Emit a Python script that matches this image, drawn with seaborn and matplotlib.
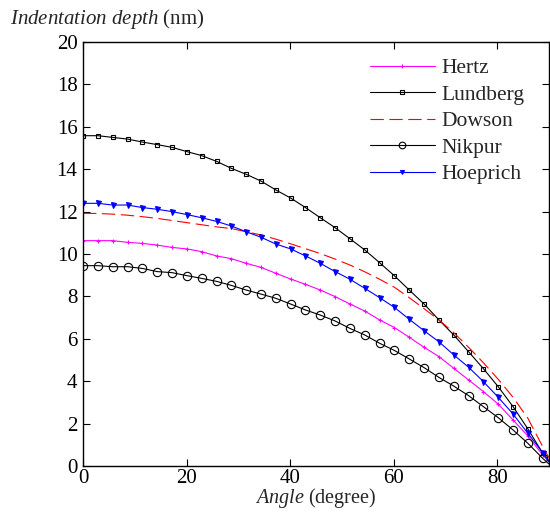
import numpy as np
import pandas as pd
import matplotlib
matplotlib.use("Agg")
import matplotlib.pyplot as plt
from matplotlib.lines import Line2D
import seaborn as sns

# Contact angle samples (rad), 0.05 rad steps, plus the closing point at 90 degrees
angle_rad = [0.00, 0.05, 0.10, 0.15, 0.20, 0.25, 0.30, 0.35, 0.40, 0.45,
             0.50, 0.55, 0.60, 0.65, 0.70, 0.75, 0.80, 0.85, 0.90, 0.95,
             1.00, 1.05, 1.10, 1.15, 1.20, 1.25, 1.30, 1.35, 1.40, 1.45,
             1.50, 1.55, np.pi / 2]

hertz = [10.63, 10.63, 10.63, 10.55, 10.50, 10.42, 10.31, 10.24, 10.11, 9.91,
         9.78, 9.56, 9.37, 9.09, 8.82, 8.57, 8.30, 7.99, 7.64, 7.31,
         6.89, 6.53, 6.07, 5.60, 5.16, 4.61, 4.06, 3.51, 2.92, 2.17,
         1.42, 0.52, 0.20]
lundberg = [15.58, 15.58, 15.50, 15.42, 15.28, 15.16, 15.03, 14.83, 14.64, 14.37,
            14.04, 13.76, 13.44, 13.02, 12.64, 12.19, 11.71, 11.24, 10.72, 10.19,
            9.59, 8.97, 8.30, 7.64, 6.89, 6.18, 5.39, 4.59, 3.74, 2.80,
            1.75, 0.60, 0.25]
dowson = [11.92, 11.91, 11.88, 11.83, 11.76, 11.68, 11.58, 11.48, 11.38, 11.28,
          11.20, 11.05, 10.90, 10.70, 10.48, 10.25, 10.02, 9.76, 9.48, 9.16,
          8.81, 8.43, 7.94, 7.42, 6.89, 6.29, 5.60, 4.87, 4.09, 3.24,
          2.25, 0.91, 0.40]
nikpur = [9.45, 9.45, 9.40, 9.40, 9.32, 9.17, 9.12, 8.98, 8.85, 8.71,
          8.52, 8.30, 8.11, 7.91, 7.64, 7.36, 7.12, 6.84, 6.49, 6.18,
          5.79, 5.45, 5.05, 4.64, 4.18, 3.77, 3.32, 2.80, 2.28, 1.70,
          1.07, 0.36, 0.10]
hoeprich = [12.39, 12.39, 12.31, 12.31, 12.19, 12.11, 12.00, 11.86, 11.71, 11.54,
            11.32, 11.05, 10.79, 10.47, 10.24, 9.91, 9.56, 9.17, 8.81, 8.38,
            7.94, 7.48, 6.92, 6.38, 5.86, 5.24, 4.66, 3.98, 3.24, 2.45,
            1.54, 0.63, 0.20]

series_names = ["Hertz", "Lundberg", "Dowson", "Nikpur", "Hoeprich"]
series_values = [hertz, lundberg, dowson, nikpur, hoeprich]
colors = ["#ff00ff", "#000000", "#ff0000", "#000000", "#0000ff"]
markers = ["+", "s", "", "o", "v"]
marker_sizes = [3.5, 2.8, 0, 6.0, 3.6]
linestyles = ["-", "-", (0, (12, 5)), "-", "-"]
marker_faces = ["#ff00ff", "none", "none", "none", "#0000ff"]

x_ticks = [0, 20, 40, 60, 80]
y_ticks = [0, 2, 4, 6, 8, 10, 12, 14, 16, 18, 20]

angle_deg = np.degrees(angle_rad)
frames = [pd.DataFrame({"angle": angle_deg, "depth": v, "model": n})
          for n, v in zip(series_names, series_values)]
df = pd.concat(frames, ignore_index=True)

sns.set_style("ticks")
plt.rcParams["font.family"] = ["Liberation Serif", "DejaVu Serif"]
plt.rcParams["mathtext.fontset"] = "custom"
plt.rcParams["mathtext.rm"] = "Liberation Serif"
plt.rcParams["mathtext.it"] = "Liberation Serif:italic"

fig = plt.figure(figsize=(5.5, 5.12), dpi=100)
ax = fig.add_axes([0.151, 0.0898, 0.847, 0.8282])

n_marked = len(angle_rad) - 1
for name, col, mk, ms, ls, mf in zip(series_names, colors, markers, marker_sizes,
                                     linestyles, marker_faces):
    sub = df[df["model"] == name]
    sns.lineplot(data=sub, x="angle", y="depth", ax=ax, color=col,
                 linestyle=ls, linewidth=0.8, marker=mk if mk else None,
                 markersize=ms, markerfacecolor=mf, markeredgecolor=col,
                 markeredgewidth=0.8, markevery=list(range(n_marked)),
                 legend=False, clip_on=True)

ax.set_xlim(0, 90)
ax.set_ylim(0, 20)
ax.set_xticks(x_ticks)
ax.set_yticks(y_ticks)
ax.set_xlabel("")
ax.set_ylabel("")
ax.tick_params(direction="in", length=5, width=0.8, labelsize=15,
               top=True, right=True, colors="black", pad=4)
ax.tick_params(axis="x", pad=2)
for s in ax.spines.values():
    s.set_visible(True)
    s.set_linewidth(1.0)
    s.set_color("black")

handles = [Line2D([], [], color=c, linestyle=ls, linewidth=0.8,
                  marker=mk if mk else None, markersize=ms * 0.8,
                  markerfacecolor=mf, markeredgecolor=c, markeredgewidth=0.8)
           for c, mk, ms, ls, mf in zip(colors, markers, marker_sizes, linestyles, marker_faces)]
ax.legend(handles, series_names, loc="upper left", bbox_to_anchor=(0.616, 0.962),
          frameon=False, fontsize=15.5, handlelength=3.0, handletextpad=0.33,
          labelspacing=0.3, borderpad=0, borderaxespad=0, numpoints=1)

fig.text(0.018, 0.962, r"$\mathit{Indentation\ depth}$ (nm)", fontsize=15,
         ha="left", va="center")
fig.text(0.573, 0.003, r"$\mathit{Angle}$ (degree)", fontsize=14.5,
         ha="center", va="bottom")

fig.savefig("out.png", dpi=100)
